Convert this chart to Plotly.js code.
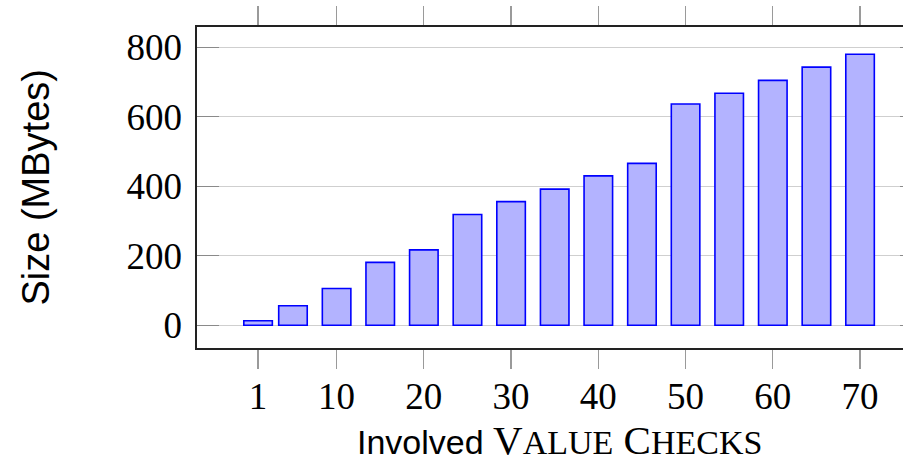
<!DOCTYPE html>
<html>
<head>
<meta charset="utf-8">
<script src="https://cdn.plot.ly/plotly-3.0.1.min.js"></script>
<style>
  html, body { margin: 0; padding: 0; overflow: hidden; background: #fff; }
  #chart { width: 925px; height: 463px; }
</style>
</head>
<body>
<div id="chart"></div>
<script>
// Data
const valueChecks = [1, 5, 10, 15, 20, 25, 30, 35, 40, 45, 50, 55, 60, 65, 70];
const sizeMBytes  = [13, 56, 106, 181, 217, 319, 356, 392, 430, 466, 637, 668, 705, 743, 780];
const xTickVals   = [1, 10, 20, 30, 40, 50, 60, 70];
const xTickText   = ['1', '10', '20', '30', '40', '50', '60', '70'];
const yTickVals   = [0, 200, 400, 600, 800];

const serif = 'Liberation Serif, Times New Roman, serif';
const sans  = 'Liberation Sans, Arial, sans-serif';

const trace = {
  type: 'bar',
  x: valueChecks,
  y: sizeMBytes,
  width: 3.27,
  marker: { color: '#b3b3ff', line: { color: '#0000ff', width: 1.6 } },
  hoverinfo: 'skip'
};

const sc = (t, big, small) => {
  return '<span style="font-family:' + serif + ';font-size:' + big + 'px">' + t[0] + '</span>' +
         '<span style="font-family:' + serif + ';font-size:' + small + 'px">' + t.slice(1) + '</span>';
};

const layout = {
  width: 925,
  height: 463,
  margin: { l: 197, r: 3, t: 27, b: 115, pad: 0 },
  paper_bgcolor: '#ffffff',
  plot_bgcolor: '#ffffff',
  showlegend: false,
  font: { family: serif, size: 37, color: '#000' },
  xaxis: {
    range: [-6.0, 77.1],
    tickmode: 'array',
    tickvals: xTickVals,
    ticktext: xTickText,
    ticks: 'outside',
    ticklen: 19,
    tickwidth: 1.3,
    tickcolor: '#9a9a9a',
    ticklabelstandoff: -4,
    showline: true,
    linecolor: '#222',
    linewidth: 1.6,
    mirror: 'ticks',
    showgrid: false,
    zeroline: false,
    tickfont: { family: serif, size: 37, color: '#000' }
  },
  yaxis: {
    range: [-65.4, 858.5],
    tickmode: 'array',
    tickvals: yTickVals,
    ticks: 'inside',
    ticklen: 22,
    tickwidth: 1.3,
    tickcolor: '#8a8a8a',
    ticklabelstandoff: 6,
    showline: true,
    linecolor: '#222',
    linewidth: 1.6,
    mirror: 'ticks',
    showgrid: true,
    gridcolor: '#cfcfcf',
    gridwidth: 1.2,
    zeroline: false,
    tickfont: { family: serif, size: 37, color: '#000' }
  },
  annotations: [
    {
      text: 'Size (MBytes)',
      xref: 'paper', yref: 'paper',
      x: -0.2234, y: 0.5,
      xanchor: 'center', yanchor: 'middle',
      textangle: -90,
      showarrow: false,
      font: { family: sans, size: 38, color: '#000' }
    },
    {
      text: '<span style="font-family:' + sans + ';font-size:34px">Involved </span>' +
            sc('VALUE', 41, 34) + '<span style="font-family:' + serif + ';font-size:41px"> </span>' + sc('CHECKS', 41, 34),
      xref: 'paper', yref: 'paper',
      x: 0.5, y: -0.287,
      xanchor: 'center', yanchor: 'middle',
      showarrow: false,
      font: { family: serif, size: 41, color: '#000' }
    }
  ]
};

Plotly.newPlot('chart', [trace], layout, { staticPlot: true, displayModeBar: false });
</script>
</body>
</html>
